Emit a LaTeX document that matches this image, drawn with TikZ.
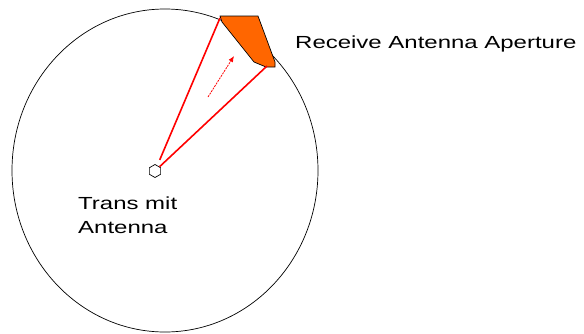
\documentclass[tikz,border=0pt]{standalone}
\usepackage{fontspec}
\newfontfamily\labelfont[FakeStretch=1.37]{Liberation Sans}
\usetikzlibrary{arrows.meta,shapes.geometric}
\definecolor{aperture}{RGB}{255,102,0}

\begin{document}
\begin{tikzpicture}[x=1pt, y=-1pt, sphere/.style={draw=black, line width=0.7pt}, beam/.style={line width=1.6pt, red}, flow/.style={-{Latex[length=6pt,width=5pt]}, red, line width=0.8pt, dash pattern=on 2pt off 1pt}, antenna/.style={regular polygon, regular polygon sides=6, shape border rotate=30, draw, line width=0.7pt, minimum size=13pt, inner sep=0pt}, label/.style={font=\labelfont\fontsize{17.5}{24}\selectfont, inner sep=0pt}]
\useasboundingbox (0,0) rectangle (584,333);
\draw[sphere] (165,170.5) ellipse [x radius=153, y radius=161.5];
\coordinate (ap1) at (220,18); \coordinate (ap2) at (267,66);
\draw[fill=aperture, line width=0.7pt] (220,16)--(258,16)--(275,62)--(275,67)--(266,67)--(254,62)--(238,42)--(222,22)--cycle;
\node[antenna] (tx) at (155,171) {};
\draw[beam, shorten <=6pt] (tx)--(ap1); \draw[beam] (tx)--(ap2);
\coordinate (fs) at (208,97); \coordinate (fe) at (234,56);
\draw[flow] (fs)--(fe);
\node[label, anchor=base west] (rxlabel) at (295,48) {Receive Antenna Aperture};
\node[label, anchor=base west] (txlabel) at (78,209) {Trans mit};
\node[label, anchor=base west] (txlabel2) at (78,233) {Antenna};
\end{tikzpicture}
\end{document}
